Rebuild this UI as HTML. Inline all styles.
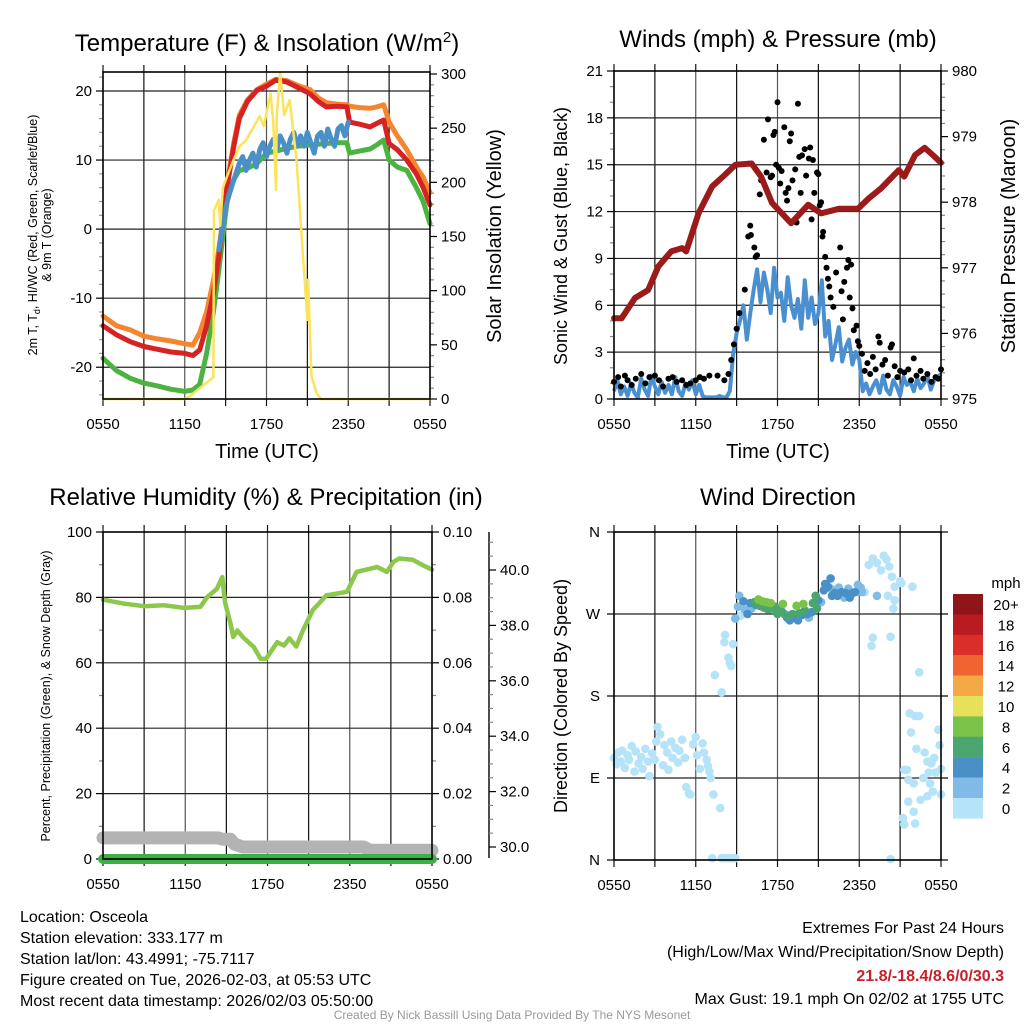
<!DOCTYPE html>
<html><head><meta charset="utf-8">
<style>
html,body{margin:0;padding:0;background:#fff;}
svg{display:block;font-family:"Liberation Sans",Arial,sans-serif;}
</style></head>
<body>
<svg id="chart" width="1024" height="1024" viewBox="0 0 1024 1024" xmlns="http://www.w3.org/2000/svg">
<rect x="0" y="0" width="1024" height="1024" fill="#fff"/>
<!-- Titles -->
<text x="267" y="51" font-size="24" text-anchor="middle">Temperature (F) &amp; Insolation (W/m<tspan dy="-9" font-size="15">2</tspan><tspan dy="9">)</tspan></text>
<text x="778" y="47" font-size="24" text-anchor="middle">Winds (mph) &amp; Pressure (mb)</text>
<text x="266" y="505" font-size="24" text-anchor="middle">Relative Humidity (%) &amp; Precipitation (in)</text>
<text x="778" y="505" font-size="24" text-anchor="middle">Wind Direction</text>
<!-- axis titles -->
<text x="267" y="458" font-size="20" text-anchor="middle">Time (UTC)</text>
<text x="778" y="458" font-size="20" text-anchor="middle">Time (UTC)</text>
<text transform="translate(37,235) rotate(-90)" font-size="12.5" text-anchor="middle">2m T, T<tspan dy="3" font-size="9">d</tspan><tspan dy="-3">, HI/WC (Red, Green, Scarlet/Blue)</tspan></text>
<text transform="translate(51,235) rotate(-90)" font-size="12.5" text-anchor="middle">&amp; 9m T (Orange)</text>
<text transform="translate(501,236) rotate(-90)" font-size="20" text-anchor="middle">Solar Insolation (Yellow)</text>
<text transform="translate(567,236) rotate(-90)" font-size="18" text-anchor="middle">Sonic Wind &amp; Gust (Blue, Black)</text>
<text transform="translate(1015,236) rotate(-90)" font-size="20" text-anchor="middle">Station Pressure (Maroon)</text>
<text transform="translate(50,696) rotate(-90)" font-size="12.5" text-anchor="middle">Percent, Precipitation (Green), &amp; Snow Depth (Gray)</text>
<text transform="translate(567,696) rotate(-90)" font-size="18" text-anchor="middle">Direction (Colored By Speed)</text>
<!-- footer text -->
<g font-size="16">
<text x="20" y="922">Location: Osceola</text>
<text x="20" y="943">Station elevation: 333.177 m</text>
<text x="20" y="964">Station lat/lon: 43.4991; -75.7117</text>
<text x="20" y="985">Figure created on Tue, 2026-02-03, at 05:53 UTC</text>
<text x="20" y="1006">Most recent data timestamp: 2026/02/03 05:50:00</text>
</g>
<g font-size="16" text-anchor="end">
<text x="1004" y="933">Extremes For Past 24 Hours</text>
<text x="1004" y="957">(High/Low/Max Wind/Precipitation/Snow Depth)</text>
<text x="1004" y="981" fill="#c8202a" font-weight="bold">21.8/-18.4/8.6/0/30.3</text>
<text x="1004" y="1004">Max Gust: 19.1 mph On 02/02 at 1755 UTC</text>
</g>
<text x="512" y="1019" font-size="12" fill="#999" text-anchor="middle">Created By Nick Bassill Using Data Provided By The NYS Mesonet</text>
<g id="layer"></g>
</svg>
<script>
// ---------- DATA ----------
const xTickLabels = ["0550","1150","1750","2350","0550"];
// Panel 1: temperature
const tTemp = [0,1,2,3,4,5,6,6.6,7.1,7.6,8.1,8.5,8.8,9.1,9.6,10,10.6,11.3,12,12.7,13.5,14.3,15.2,15.8,16.4,17.2,17.9,18.1,18.8,19.6,20.1,20.6,21,21.6,22.3,23,23.5,24];
const tempRed = [-14,-15.3,-16.3,-17,-17.4,-17.8,-18,-18.3,-17.5,-14,-9.3,-4,1,6,12,16,18.5,20.1,20.7,21.6,21.3,20.5,19.6,18.5,17.7,17.8,17.7,15.5,15.2,14.8,15.3,15.8,12.4,11.5,10,8,6,3.5];
const tempOrange = [-12.6,-14,-14.6,-15.5,-15.9,-16.2,-16.6,-16.8,-15,-12,-7.5,-3,1.5,6.5,12.5,16.5,18.7,20.2,21,21.7,21.5,20.8,20.2,19,18.3,18.1,18,17.8,17.6,17.5,17.7,18,15.5,13.5,11.5,9,7.5,5.3];
const dewGreen = [-18.7,-20.5,-21.6,-22.3,-22.7,-23.2,-23.5,-23.3,-22.5,-18,-12,-6,-1,4,7.2,8.5,8.8,9.5,11,11.3,11.7,12,12.2,12.3,12.4,12.5,12.5,11,11.3,11.6,12.2,12.9,10,9,8.5,6,4,0.8];
const tBlue = [8.5,8.75,9,9.25,9.5,9.75,10,10.25,10.5,10.75,11,11.25,11.5,11.75,12,12.25,12.5,12.75,13,13.25,13.5,13.75,14,14.25,14.5,14.75,15,15.25,15.5,15.75,16,16.25,16.5,16.75,17,17.25,17.5,17.75,18];
const temp9m = [-3,0,3,5,6.5,8,9.5,10.5,8.5,10,11,9,11.5,12.5,10.5,12,13,11.5,13.5,12.5,11,13,14,12,13.5,12,14,12.5,11,13.5,14,12,14.5,13,12,14.5,15,13.5,15.5];
const tSolar = [0,6,6.3,7.1,7.8,8.1,8.15,8.5,8.6,8.8,9,9.5,10,10.5,11,11.5,11.8,12.3,12.5,12.7,12.75,13,13.3,13.7,14.2,14.7,15,15.05,15.3,15.7,16,24];
const solar = [0,0,2,10,17,20,174,184,160,195,202,218,233,239,250,261,252,282,255,193,260,301,262,276,221,128,73,110,21,5,0,0];
// Panel 2: wind & pressure
const tPres = [0,0.56,1.54,2.5,3.25,4.2,5,5.3,6.2,7.2,8.1,8.9,10.1,10.8,11.6,13,14.25,15.2,16.5,17.9,18.7,19.6,20.9,21.3,22.1,22.8,23.5,24];
const pressure = [976.23,976.23,976.54,976.66,977.02,977.25,977.3,977.25,977.83,978.24,978.41,978.57,978.59,978.39,977.99,977.68,977.96,977.83,977.9,977.9,978.06,978.21,978.49,978.39,978.72,978.83,978.7,978.6];
const windSpd = [0.5,1.2,0.3,0.8,0.2,1.0,0.4,0.1,1.3, 0.6,0.2,1.5,0.8,0.3,1.1,0.4,0.9, 0.3,1.4,0.5,0.2,1.0,0.6,1.2,0.3, 0.9,0.2,0.1,0.1,0.1,0.1,0.2,0.1, 0.1,0.5,2.9,4.2,5,6,3.8,5.5, 7,8.3,6.2,8.1,7,5.5,8.4,6.5, 6.8,5,7.8,6,5.2,6.4,4.5,7.6, 5.2,6.5,4.8,5.5,7.6,4,5,2.5, 3.5,4.6,2.4,3.3,3.8,2.2,3,2.5, 0.5,1,0.3,0.8,1.2,0.4,1.5,0.6, 0.3,1.2,0.8,0.2,1.4,0.9,1.1,0.5, 1.3,0.7,1.0,1.5,0.6,1.2,1.4,1.6];
const windTimes = windSpd.map((_, i) => i * 0.25);
const tGust = [0,0.3,0.5,0.8,1,1.3,1.6,2,2.3,2.6,3,3.3,3.6,4,4.3,4.6,5,5.3,5.6,6,6.3,6.6,7,7.6,8.1,8.4,8.6,8.8,9,9.2,9.6,9.85,10,10.05,10.3,10.4,10.5,10.7,10.8,11,11.2,11.3,11.5,11.6,11.7,11.8,11.9,12,12.1,12.2,12.3,12.5,12.6,12.7,12.8,12.9,13,13.1,13.3,13.4,13.5,13.6,13.7,13.8,14,14.1,14.3,14.4,14.5,14.6,14.7,14.9,15,15.1,15.2,15.3,15.35,15.5,15.6,15.7,15.8,15.9,16.1,16.3,16.6,16.7,16.8,16.9,17.1,17.2,17.3,17.4,17.5,17.6,17.8,17.9,18,18.2,18.4,18.6,18.8,19,19.2,19.4,19.5,19.7,19.9,20.1,20.3,20.4,20.6,20.8,21,21.3,21.6,21.8,22,22.2,22.5,22.7,23,23.3,23.6,23.8,24];
const gust = [1.1,1.4,0.8,1.5,1.2,0.9,1.3,1.6,1.0,1.4,1.5,1.2,0.8,1.3,1.4,1.1,1.2,0.9,1.0,1.2,1.4,1.3,1.5,1.5,1.2,1.6,2.5,3.5,4.5,5.5,7,10.4,11.1,10.5,9.7,9.1,9.2,13.1,14,16.6,14.5,17.9,14.2,14.3,16.9,17.1,15,19,14.8,13.8,14.6,17.4,13.2,12.7,13.5,16.5,17,14,14.7,11.3,18.9,15.5,13.2,15.6,16,14.3,15.4,16.1,11.5,15.3,13.2,14.5,14.4,12.4,12.6,10.4,10.7,9.1,8.4,7.7,7.2,6.5,5.9,8.1,9.7,6.9,5.1,7.5,8.4,8.9,6.5,8.6,5.8,4.4,4.7,3.7,3.4,2.9,1.8,2.3,1.6,2.7,1.9,4,3.6,2.2,2.5,1.5,3.3,3.5,2.1,1.4,1.8,1.7,1.9,1.2,2.6,1.5,1.8,1.3,1.6,1.1,1.4,1.3,1.9];
// Panel 3: RH, precip, snow
const tRH = [0,1.5,3,4.4,5.9,7.1,7.6,8.3,8.7,8.9,9.3,9.5,9.8,10.2,11,11.5,11.9,12.7,13.2,13.6,14.1,14.6,15.3,16.3,17.8,18.5,20,20.7,21.2,21.6,22.6,23.3,23.8,24];
const rh = [79.3,78.1,77.3,77.6,76.8,77.1,80.1,82.6,86.2,78.5,72,67.9,69.9,67.9,64.8,61.2,61.2,66.3,65.3,67.5,65,70,76.1,80.6,81.7,87.8,89.3,87.8,90.9,91.9,91.5,89.9,88.9,88.5];
const tPrecip = [0,24];
const precip = [0,0];
const tSnow = [0,8.4,8.7,9.3,9.6,10.2,19,19.5,24];
const snow = [30.33,30.33,30.28,30.28,30.1,30.0,30.0,29.88,29.88];
// Panel 4: wind direction
const tDir = [0,0.2,0.3,0.5,0.6,0.8,1,1.1,1.3,1.5,1.6,1.8,2,2.1,2.3,2.5,2.6,2.8,3,3.1,3.2,3.4,3.6,3.7,3.9,4,4.2,4.3,4.5,4.7,4.8,5,5.2,5.3,5.5,5.6,5.8,6,6.1,6.3,6.5,6.6,6.8,6.9,7,7.1,7.3,7.8,
 7.2,7.9,8.1,8.2,8.4,8.5,8.7,8.9, 7.4,7.9,8.1,8.15,8.4,8.5,8.6,8.75,8.9,
 9.1,9.2,9.3,9.5,9.6,9.8,10,10.1,10.3,10.4,10.6,10.7,10.9,11,11.2,11.3,11.5,11.6,11.8,12,12.1,12.3,12.4,12.5,12.7,12.8,12.9,13.1,13.2,13.4,13.5,13.6,13.8,13.9,14,14.2,14.3,14.5,14.6,14.8,14.9,15,15.2,15.4,15.5,15.7,15.9,16,16.2,16.4,16.5,16.7,16.9,17,17.2,17.3,17.5,17.7,17.9,18.1,18.2,15.9,
 18.4,18.7,19,19.3,19.6,19.8,20,20.2,20.4,20.5,20.6,21,21.1,20.1,19,18.9,20.3,21.9,22.4,19.3,20.6,
 21.7,22.1,22.4,21.8,23.8,22.2,22.8,23.1,23.3,23.5,23.9,24,21.3,21.5,21.6,22,21.6,21.2,21.3,22.1,22,22.5,23,23.4,23.2,23.6,22.7,23,20.3,24];
const dirDeg = [112,105,118,108,120,101,115,110,125,97,119,106,113,100,122,108,92,117,110,130,146,138,104,126,118,99,130,112,123,107,120,132,112,80,73,72,127,135,115,100,128,118,110,103,97,90,72,57,
 2,2,2,2,2,2,2,2, 203,184,239,247,222,216,213,237,265,
 278,290,268,284,275,270,282,276,283,280,286,279,284,277,283,275,282,276,278,270,276,273,281,270,266,268,263,270,266,279,263,271,269,281,274,270,266,272,282,290,276,285,283,296,303,300,298,290,293,290,299,294,288,293,298,288,293,294,302,299,294,309,
 294,324,331,326,318,334,330,322,311,276,300,306,304,290,244,235,245,300,206,290,285,
 161,158,158,140,143,122,118,96,106,112,126,100,99,99,88,84,64,46,39,40,53,66,70,75,84,96,90,108,1,72];
const dirSpd = [1,1,1,1,1,1,1,1,1,1,1,1,1,1,1,1,1,1,1,1,1,1,1,1,1,1,1,1,1,1,1,1,1,1,1,1,1,1,1,1,1,1,1,1,1,1,1,1,
 0.5,0.5,0.5,0.5,0.5,0.5,0.5,0.5, 1,1,1,1,1,1,1,1,3,
 3,2,1,5,3,4,5,3,7,5,8,7,8,6,9,7,8,6,7,6,7,5,8,7,4,6,5,7,4,9,4,6,5,8,6,5,3,5,6,7,6,4,3,4,4,4,3,4,4,5,3,4,3,4,3,5,4,5,3,2,2,4,
 1,1,1,1,1,1,1,1,1,1,1,1,1,1,1,1,1,1,1,3,1,
 1,1,1,1,1,1,1,1,1,1,1,1,1,1,1,1,1,1,1,1,1,1,1,1,1,1,1,1,1,1];
const cbLabels = ["20+","18","16","14","12","10","8","6","4","2","0"];
const cbColors = ["#8e1518","#b81c22","#d92f28","#ef6430","#f5a945","#e6e05a","#7bc24a","#4aa66e","#4a8fc6","#7fbbe6","#b5e3f8"];

// ---------- HELPERS ----------
const NS = "http://www.w3.org/2000/svg";
const layer = document.getElementById("layer");
function mk(tag, attrs, parent) {
  const e = document.createElementNS(NS, tag);
  for (const k in attrs) e.setAttribute(k, attrs[k]);
  (parent || layer).appendChild(e);
  return e;
}
function txt(x, y, s, anchor, size, parent) {
  const e = mk("text", {x: x, y: y, "font-size": size || 16, "text-anchor": anchor || "middle"}, parent);
  e.textContent = s;
  return e;
}
function panelX(x0, x1) { return t => x0 + (x1 - x0) * t / 24; }
function lin(v0, v1, p0, p1) { return v => p0 + (v - v0) * (p1 - p0) / (v1 - v0); }
function pathD(ts, vs, fx, fy) {
  return ts.map((t, i) => (i ? "L" : "M") + fx(t).toFixed(1) + "," + fy(vs[i]).toFixed(1)).join("");
}
function frame(x0, y0, x1, y1, name) {
  const g = mk("g", {});
  
  
  // vertical grid every 3h
  for (let h = 3; h < 24; h += 3) {
    const x = x0 + (x1 - x0) * h / 24;
    mk("line", {x1: x, y1: y0, x2: x, y2: y1, stroke: h % 6 === 0 ? "#555" : "#111", "stroke-width": 1.2}, g);
  }
  for (let h = 0; h <= 24; h += 3) {
    const x = x0 + (x1 - x0) * h / 24;
    mk("line", {x1: x, y1: y0 - 7, x2: x, y2: y0, stroke: "#111", "stroke-width": 1.2}, g);
    mk("line", {x1: x, y1: y1, x2: x, y2: y1 + 7, stroke: "#111", "stroke-width": 1.2}, g);
  }
  xTickLabels.forEach((s, i) => {
    const x = x0 + (x1 - x0) * i / 4;
    const e = txt(x, y1 + 30, s, "middle", 15, g);
    
    
  });
  return g;
}
function border(x0, y0, x1, y1) {
  mk("rect", {x: x0, y: y0, width: x1 - x0, height: y1 - y0, fill: "none", stroke: "#000", "stroke-width": 1.6});
}
function yTicks(x, y0, y1, vmin, vmax, major, minor, labels, side, fmt, g) {
  const fy = lin(vmin, vmax, y1, y0);
  const dir = side === "left" ? -1 : 1;
  for (let v = vmin; v <= vmax + 1e-9; v += minor) {
    const isMaj = Math.abs(Math.round((v - vmin) / major) * major - (v - vmin)) < 1e-6;
    mk("line", {x1: x, y1: fy(v), x2: x + dir * (isMaj ? 7 : 4), y2: fy(v), stroke: isMaj ? "#000" : "#888", "stroke-width": 1.2}, g);
  }
  if (labels) labels.forEach(v => {
    const e = txt(x + dir * 11, fy(v) + 5, fmt ? fmt(v) : String(v), side === "left" ? "end" : "start", 15, g);
    
    
  });
  return fy;
}
function hGrid(x0, x1, ys, g) {
  ys.forEach(y => mk("line", {x1: x0, y1: y, x2: x1, y2: y, stroke: "#222", "stroke-width": 1.2}, g));
}

// ---------- PANEL 1 ----------
(function () {
  const X0 = 103, X1 = 430, Y0 = 72, Y1 = 399;
  const g = frame(X0, Y0, X1, Y1, "temperature-panel");
  const fx = panelX(X0, X1);
  const fT = lin(-24.6, 22.75, Y1, Y0);
  const fS = lin(0, 300, 399, 74);
  hGrid(X0, X1, [20, 10, 0, -10, -20].map(fT), g);
  const ga = mk("g", {});
  
  
  for (let v = -24; v <= 22; v += 2) {
    const maj = v % 10 === 0;
    mk("line", {x1: X0, y1: fT(v), x2: X0 - (maj ? 7 : 4), y2: fT(v), stroke: maj ? "#000" : "#999", "stroke-width": 1.2}, ga);
  }
  [20, 10, 0, -10, -20].forEach(v => {
    const e = txt(X0 - 11, fT(v) + 5, String(v), "end", 15, ga);
    
    
  });
  yTicks(X1, 74, 399, 0, 300, 50, 10, [0, 50, 100, 150, 200, 250, 300], "right", null, ga);
  const series = [
    [tTemp, dewGreen, "#4cb340", "dewpoint-line", 5],
    [tTemp, tempOrange, "#f5862f", "nine-meter-temp-line", 5],
    [tTemp, tempRed, "#d62222", "two-meter-temp-line", 5],
    [tBlue, temp9m, "#4a90c8", "heat-index-line", 5],
  ];
  series.forEach(s => {
    const p = mk("path", {d: pathD(s[0], s[1], fx, fT), fill: "none", stroke: s[2], "stroke-width": s[4], "stroke-linejoin": "round", "stroke-linecap": "round"});
    
    
  });
  const ps = mk("path", {d: pathD(tSolar, solar, fx, fS), fill: "none", stroke: "#fbe35a", "stroke-width": 2.5, "stroke-linejoin": "round"});
  
  
  border(X0, Y0, X1, Y1);
})();

// ---------- PANEL 2 ----------
(function () {
  const X0 = 614, X1 = 941, Y0 = 71, Y1 = 399;
  const g = frame(X0, Y0, X1, Y1, "wind-panel");
  const fx = panelX(X0, X1);
  const fW = lin(0, 21, Y1, Y0);
  const fP = lin(975, 980, Y1, Y0);
  hGrid(X0, X1, [3, 6, 9, 12, 15, 18].map(fW), g);
  const ga = mk("g", {});
  
  
  yTicks(X0, Y0, Y1, 0, 21, 3, 1, [0, 3, 6, 9, 12, 15, 18, 21], "left", null, ga);
  yTicks(X1, Y0, Y1, 975, 980, 1, 0.2, [975, 976, 977, 978, 979, 980], "right", null, ga);
  const pw = mk("path", {d: pathD(windTimes, windSpd, fx, fW), fill: "none", stroke: "#4a90d0", "stroke-width": 4, "stroke-linejoin": "round"});
  
  
  const gg = mk("g", {});
  
  
  tGust.forEach((t, i) => {
    const c = mk("circle", {cx: fx(t), cy: fW(gust[i]), r: 3, fill: "#000"}, gg);
    
    
  });
  const pp = mk("path", {d: pathD(tPres, pressure, fx, fP), fill: "none", stroke: "#9b1b1b", "stroke-width": 6, "stroke-linejoin": "round", "stroke-linecap": "round"});
  
  
  border(X0, Y0, X1, Y1);
})();

// ---------- PANEL 3 ----------
(function () {
  const X0 = 103, X1 = 432, Y0 = 532, Y1 = 859;
  const g = frame(X0, Y0, X1, Y1, "humidity-panel");
  const fx = panelX(X0, X1);
  const fR = lin(0, 100, Y1, Y0);
  const fPr = lin(0, 0.1, Y1, Y0);
  const fSn = lin(30, 40, 847, 570);
  hGrid(X0, X1, [20, 40, 60, 80].map(fR), g);
  const ga = mk("g", {});
  
  
  yTicks(X0, Y0, Y1, 0, 100, 20, 10, [0, 20, 40, 60, 80, 100], "left", null, ga);
  yTicks(X1, Y0, Y1, 0, 0.1, 0.02, 0.01, [0, 0.02, 0.04, 0.06, 0.08, 0.1], "right", v => v.toFixed(2), ga);
  mk("line", {x1: 489, y1: 532, x2: 489, y2: 858, stroke: "#000", "stroke-width": 1.4}, ga);
  for (let v = 29.5; v <= 41.01; v += 0.5) {
    const maj = Math.abs(v - Math.round(v / 2) * 2) < 1e-6;
    const y = fSn(v);
    if (y < 532 || y > 858) continue;
    mk("line", {x1: 489, y1: y, x2: 489 + (maj ? 7 : 4), y2: y, stroke: maj ? "#000" : "#888", "stroke-width": 1.2}, ga);
  }
  [30, 32, 34, 36, 38, 40].forEach(v => {
    const e = txt(500, fSn(v) + 5, v.toFixed(1), "start", 15, ga);
    
    
  });
  const psn = mk("path", {d: pathD(tSnow, snow, fx, fSn), fill: "none", stroke: "#b3b3b3", "stroke-width": 13, "stroke-linejoin": "round", "stroke-linecap": "round"});
  
  
  const ppr = mk("path", {d: pathD(tPrecip, precip, fx, fPr), fill: "none", stroke: "#3cb043", "stroke-width": 10, "stroke-linecap": "round"});
  
  
  const prh = mk("path", {d: pathD(tRH, rh, fx, fR), fill: "none", stroke: "#8cc84b", "stroke-width": 4.5, "stroke-linejoin": "round", "stroke-linecap": "round"});
  
  
  border(X0, Y0, X1, Y1);
})();

// ---------- PANEL 4 ----------
(function () {
  const X0 = 614, X1 = 941, Y0 = 532, Y1 = 860;
  const g = frame(X0, Y0, X1, Y1, "wind-direction-panel");
  const fx = panelX(X0, X1);
  const fD = lin(0, 360, Y1, Y0);
  hGrid(X0, X1, [90, 180, 270].map(fD), g);
  const ga = mk("g", {});
  
  
  ["N", "E", "S", "W", "N"].forEach((s, i) => {
    const v = i * 90;
    mk("line", {x1: X0, y1: fD(v), x2: X0 - 7, y2: fD(v), stroke: "#000", "stroke-width": 1.2}, ga);
    mk("line", {x1: X1, y1: fD(v), x2: X1 + 7, y2: fD(v), stroke: "#000", "stroke-width": 1.2}, ga);
    const e = txt(X0 - 14, fD(v) + 5, s, "end", 15, ga);
    
    
  });
  const gd = mk("g", {});
  
  
  const order = tDir.map((_, i) => i).sort((a, b) => dirSpd[a] - dirSpd[b]);
  order.forEach(i => {
    const bin = Math.min(10, Math.floor(dirSpd[i] / 2));
    const c = mk("circle", {cx: fx(tDir[i]), cy: fD(dirDeg[i]), r: 4.3, fill: cbColors[10 - bin]}, gd);
    
    
  });
  border(X0, Y0, X1, Y1);
  // colorbar
  const gc = mk("g", {});
  
  
  const t = txt(1006, 588, "mph", "middle", 15, gc);
  
  
  cbLabels.forEach((s, i) => {
    const y = 594 + i * 20.4;
    const r = mk("rect", {x: 953, y: y, width: 30, height: 20.6, fill: cbColors[i]}, gc);
    
    
    const e = txt(1006, y + 16, s, "middle", 15, gc);
    
    
  });
})();
</script>
</body></html>
